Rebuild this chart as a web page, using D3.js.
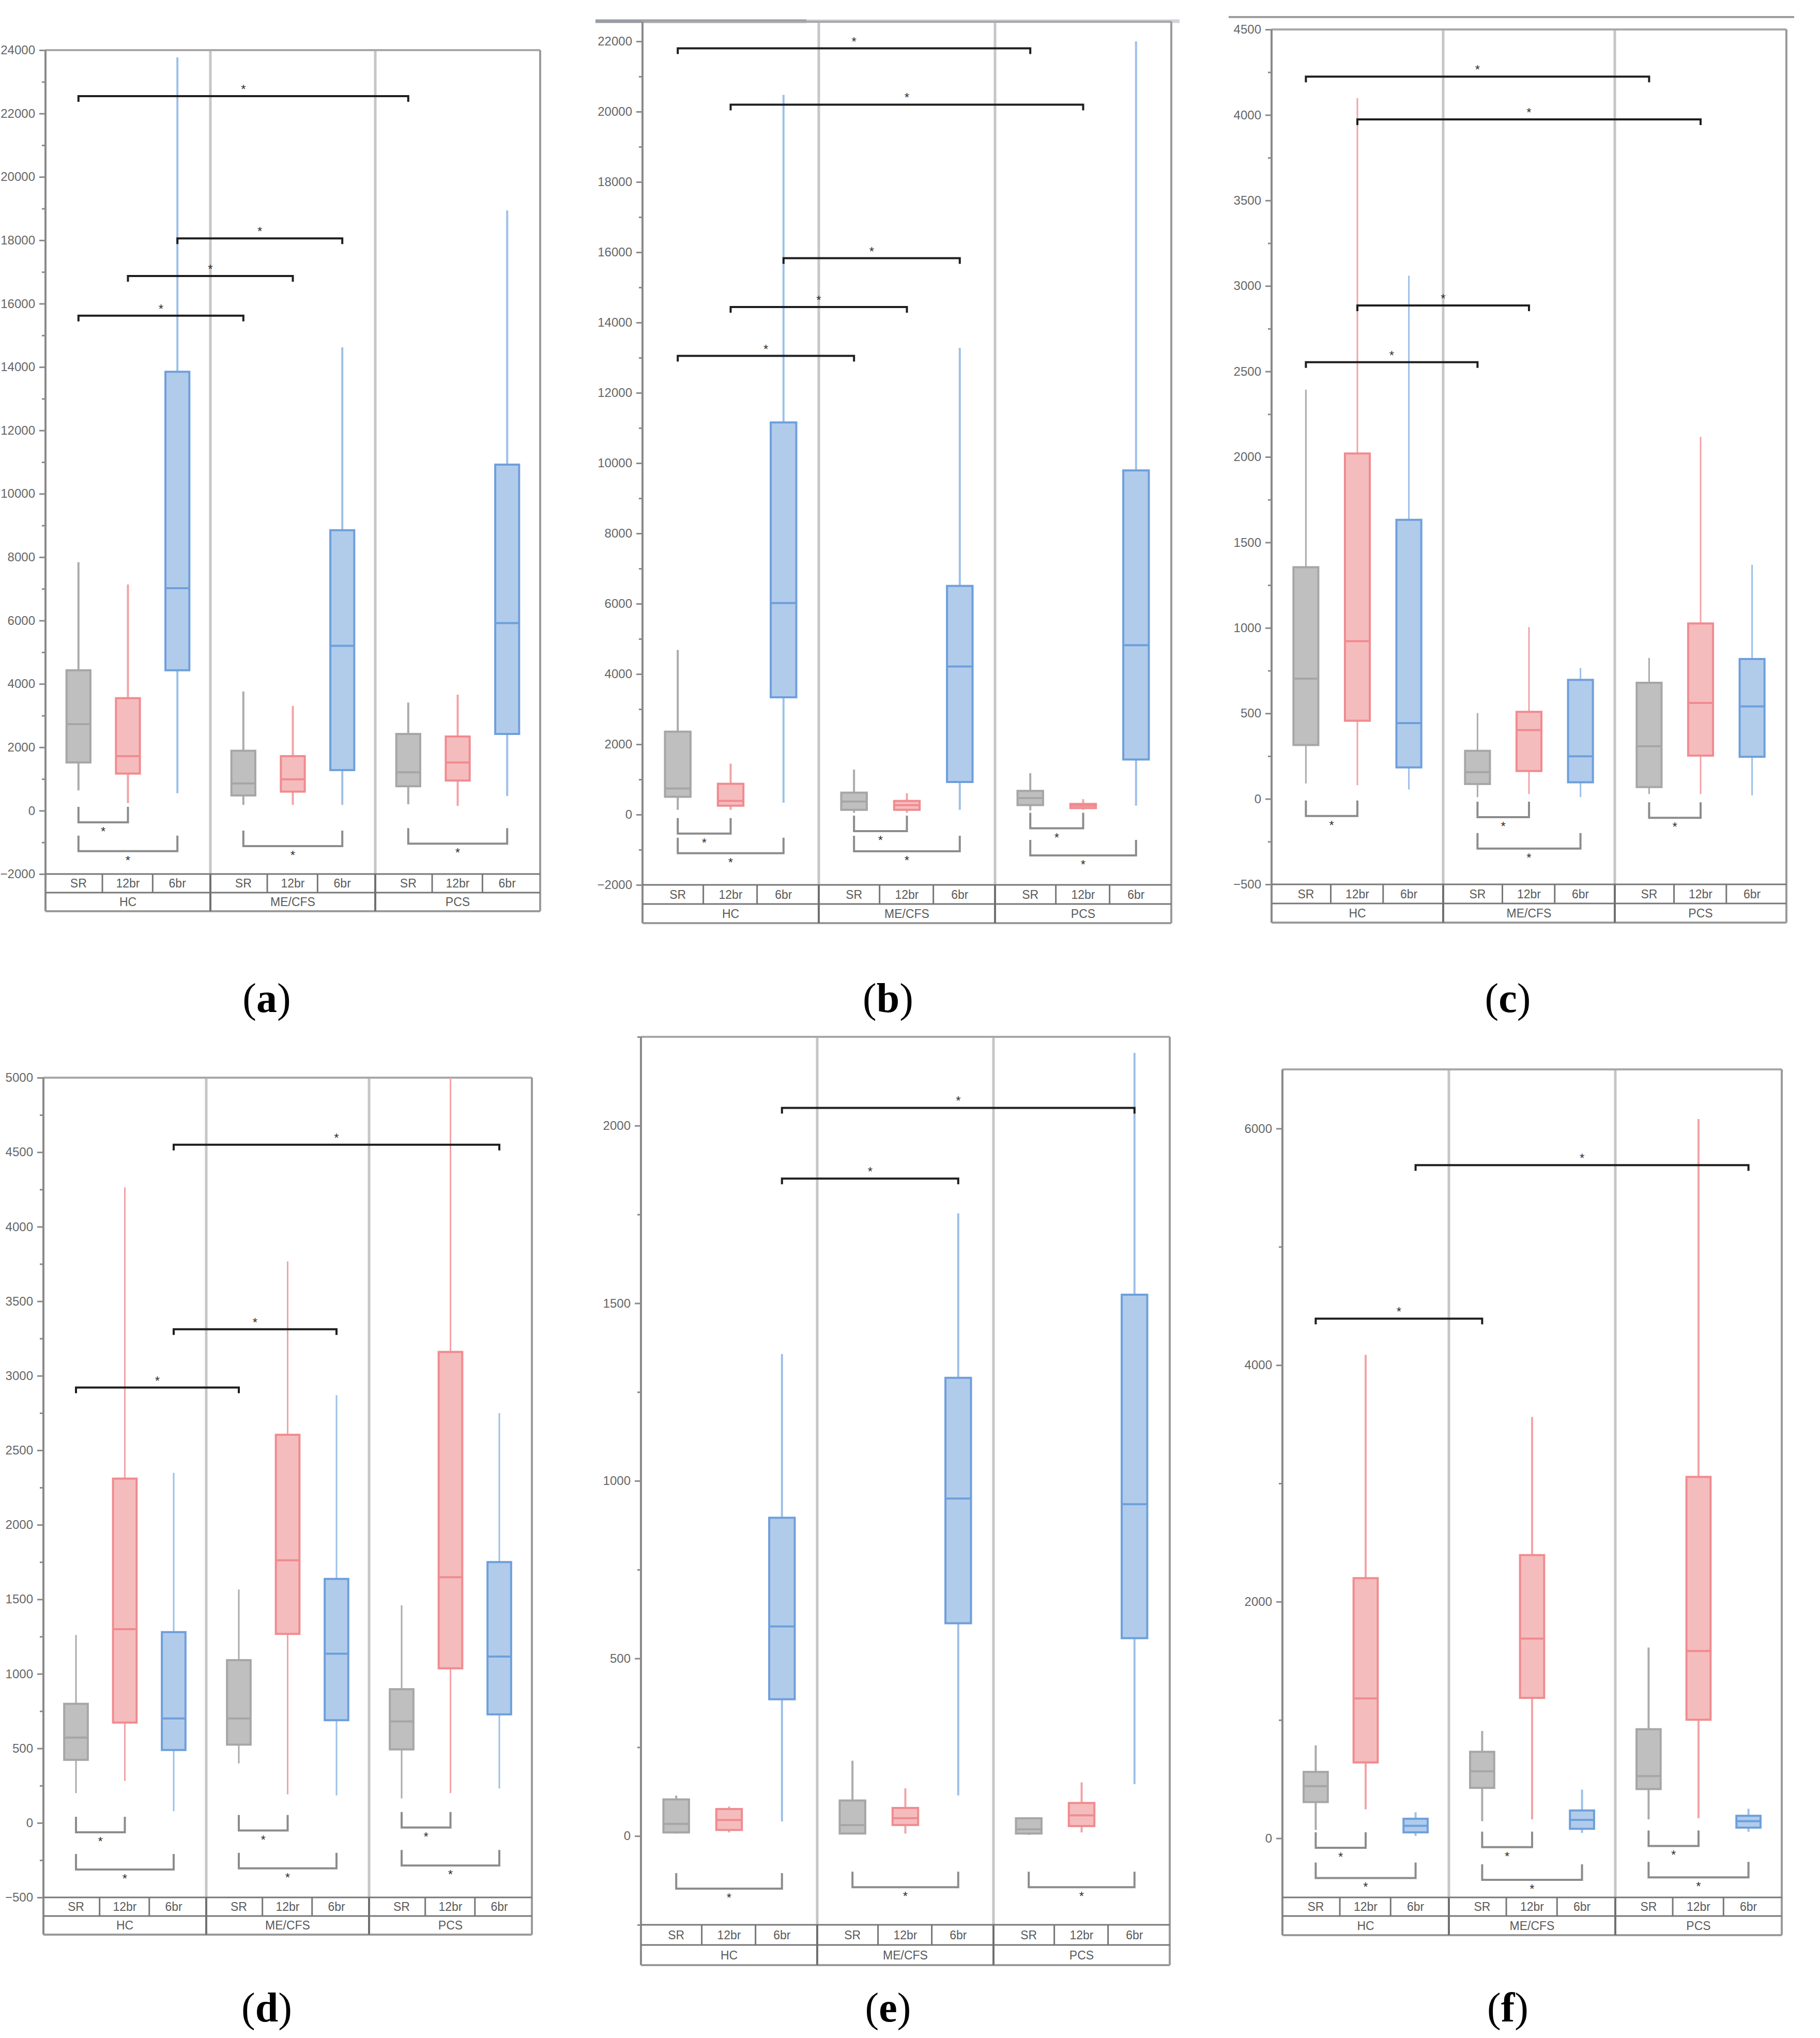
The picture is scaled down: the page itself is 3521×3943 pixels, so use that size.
<!DOCTYPE html>
<html>
<head>
<meta charset="utf-8">
<script src="https://cdn.jsdelivr.net/npm/d3@7"></script>
<style>
  html, body { margin: 0; padding: 0; background: #ffffff; }
  svg { display: block; }
</style>
</head>
<body>
<script>
// ---------------- DATA ----------------
const groups = ["HC", "ME/CFS", "PCS"];
const conditions = ["SR", "12br", "6br"];
const panelLetters = ["a", "b", "c", "d", "e", "f"];

// five-number boxes [lowWhisker, q1, median, q3, highWhisker]
// order: HC SR, HC 12br, HC 6br, ME SR, ME 12br, ME 6br, PCS SR, PCS 12br, PCS 6br
const boxesA = [[640,1520,2730,4430,7840],[240,1170,1720,3550,7140],[550,4430,7020,13850,23770],
                [180,480,860,1890,3760],[180,600,990,1720,3300],[180,1280,5200,8850,14620],
                [200,770,1210,2420,3410],[150,950,1520,2340,3660],[460,2420,5920,10920,18940]];
const boxesB = [[135,506,742,2359,4685],[135,253,388,876,1449],[337,3337,6017,11157,20478],
                [50,135,371,624,1281],[50,135,270,388,607],[135,927,4213,6506,13281],
                [118,270,472,674,1180],[135,185,253,303,438],[253,1567,4820,9792,22000]];
const boxesC = [[90,315,703,1355,2394],[80,457,922,2020,4099],[55,184,443,1632,3060],
                [10,87,156,281,502],[28,163,402,509,1005],[10,97,249,696,766],
                [28,69,308,679,825],[28,253,561,1026,2117],[21,246,541,818,1369]];
const boxesD = [[200,423,572,799,1261],[282,673,1300,2310,4264],[78,489,701,1280,2349],
                [399,525,701,1092,1566],[192,1268,1762,2604,3767],[184,689,1135,1637,2870],
                [164,493,681,897,1460],[200,1037,1648,3160,5000],[231,728,1116,1750,2749]];
const boxesE = [[7,10,34,103,114],[10,17,45,76,83],[41,385,590,896,1357],
                [7,7,31,100,212],[7,31,50,79,134],[114,599,950,1290,1753],
                [3,7,19,50,52],[10,28,58,93,151],[146,557,934,1524,2205]];
const boxesF = [[70,306,441,561,786],[245,641,1182,2199,4087],[20,50,105,165,220],
                [145,426,566,731,907],[160,1187,1688,2394,3561],[45,80,155,235,411],
                [160,416,526,922,1613],[170,1002,1583,3055,6080],[55,90,145,190,250]];

// significance brackets above: [groupFrom, condFrom, groupTo, condTo, value]
const topBracketsA = [[0,0,2,0,22550],[0,2,1,2,18060],[0,1,1,1,16870],[0,0,1,0,15620]];
const topBracketsB = [[0,0,2,0,21800],[0,1,2,1,20200],[0,2,1,2,15830],[0,1,1,1,14440],[0,0,1,0,13050]];
const topBracketsC = [[0,0,2,0,4224],[0,1,2,1,3974],[0,1,1,1,2886],[0,0,1,0,2554]];
const topBracketsD = [[0,2,2,2,4550],[0,2,1,2,3312],[0,0,1,0,2921]];
const topBracketsE = [[0,2,2,2,2050],[0,2,1,2,1851]];
const topBracketsF = [[0,2,2,2,5691],[0,0,1,0,4393]];

// significance brackets below (within group): [group, condFrom, condTo, value]
const lowBracketsA = [[0,0,1,-370],[0,0,2,-1280],[1,0,2,-1120],[2,0,2,-1040]];
const lowBracketsB = [[0,0,1,-540],[0,0,2,-1100],[1,0,1,-470],[1,0,2,-1045],[2,0,1,-390],[2,0,2,-1160]];
const lowBracketsC = [[0,0,1,-100],[1,0,1,-107],[1,0,2,-291],[2,0,1,-111]];
const lowBracketsD = [[0,0,1,-63],[0,0,2,-313],[1,0,1,-51],[1,0,2,-305],[2,0,1,-31],[2,0,2,-286]];
const lowBracketsE = [[0,0,2,-148],[1,0,2,-144],[2,0,2,-144]];
const lowBracketsF = [[0,0,1,-80],[0,0,2,-336],[1,0,1,-75],[1,0,2,-351],[2,0,1,-65],[2,0,2,-331]];

// y domains and tick labels
const domainA = [-2000, 24000], ticksA = [-2000,0,2000,4000,6000,8000,10000,12000,14000,16000,18000,20000,22000,24000];
const domainB = [-2000, 22000], ticksB = [-2000,0,2000,4000,6000,8000,10000,12000,14000,16000,18000,20000,22000];
const domainC = [-500, 4500],   ticksC = [-500,0,500,1000,1500,2000,2500,3000,3500,4000,4500];
const domainD = [-500, 5000],   ticksD = [-500,0,500,1000,1500,2000,2500,3000,3500,4000,4500,5000];
const domainE = [-250, 2250],   ticksE = [0,500,1000,1500,2000];
const domainF = [-500, 6500],   ticksF = [0,2000,4000,6000];
const minorStepA = 1000, minorStepB = 1000, minorStepC = 250, minorStepD = 250, minorStepE = 250, minorStepF = 1000;

// ---------------- LAYOUT (pixels) ----------------
const W = 3521, H = 3943;
const panels = [
  { boxes: boxesA, top: topBracketsA, low: lowBracketsA, domain: domainA, ticks: ticksA, minor: minorStepA,
    left: 88, right: 1045, axisTop: 97, axisBottom: 1691, frameTop: 97, row1: 1727, row2: 1763, whiskerW: 4 },
  { boxes: boxesB, top: topBracketsB, low: lowBracketsB, domain: domainB, ticks: ticksB, minor: minorStepB,
    left: 1243, right: 2266, axisTop: 80, axisBottom: 1712, frameTop: 42, row1: 1749, row2: 1786, whiskerW: 4 },
  { boxes: boxesC, top: topBracketsC, low: lowBracketsC, domain: domainC, ticks: ticksC, minor: minorStepC,
    left: 2460, right: 3456, axisTop: 57, axisBottom: 1711, frameTop: 57, row1: 1748, row2: 1785, whiskerW: 3 },
  { boxes: boxesD, top: topBracketsD, low: lowBracketsD, domain: domainD, ticks: ticksD, minor: minorStepD,
    left: 84, right: 1029, axisTop: 2085, axisBottom: 3671, frameTop: 2085, row1: 3707, row2: 3743, whiskerW: 3 },
  { boxes: boxesE, top: topBracketsE, low: lowBracketsE, domain: domainE, ticks: ticksE, minor: minorStepE,
    left: 1240, right: 2263, axisTop: 2006, axisBottom: 3724, frameTop: 2006, row1: 3763, row2: 3802, whiskerW: 4 },
  { boxes: boxesF, top: topBracketsF, low: lowBracketsF, domain: domainF, ticks: ticksF, minor: minorStepF,
    left: 2481, right: 3447, axisTop: 2069, axisBottom: 3671, frameTop: 2069, row1: 3707, row2: 3744, whiskerW: 4 }
];
const letterPos = [[516,1958],[1718,1958],[2917,1958],[516,3911],[1718,3911],[2917,3911]];

const colors = {
  SR:   { fill: "#bfbfbf", stroke: "#a6a6a6", whisker: "#ababab" },
  "12br": { fill: "#f5bcbe", stroke: "#f08b8f", whisker: "#f3a3a6" },
  "6br":  { fill: "#b1cceb", stroke: "#6e9fdb", whisker: "#9dc0e8" }
};
const FONT = "'Liberation Sans', Arial, sans-serif";

const svg = d3.select("body").append("svg")
  .attr("width", W).attr("height", H).attr("viewBox", `0 0 ${W} ${H}`);
svg.append("rect").attr("width", W).attr("height", H).attr("fill", "#ffffff");

// page rule remnants above panels b and c
svg.append("line").attr("x1", 1152).attr("x2", 1560).attr("y1", 41).attr("y2", 41)
  .attr("stroke", "#9a9ca4").attr("stroke-width", 7);
svg.append("line").attr("x1", 1560).attr("x2", 2282).attr("y1", 41).attr("y2", 41)
  .attr("stroke", "#d2d2dc").attr("stroke-width", 7);
svg.append("line").attr("x1", 2377).attr("x2", 3471).attr("y1", 33).attr("y2", 33)
  .attr("stroke", "#9c9c9c").attr("stroke-width", 4);

panels.forEach((p, pi) => {
  const g = svg.append("g");
  const y = d3.scaleLinear().domain(p.domain).range([p.axisBottom, p.axisTop]);
  const xg = d3.scaleBand().domain(groups).range([p.left, p.right]).padding(0);
  const gw = xg.bandwidth();
  const xc = d3.scalePoint().domain(conditions).range([-0.3 * gw, 0.3 * gw]);
  const cx = (gi, ci) => xg(groups[gi]) + gw / 2 + xc(conditions[ci]);
  const bw = 0.145 * gw;

  // group dividers inside plot
  groups.slice(1).forEach(gr => {
    g.append("line").attr("x1", xg(gr)).attr("x2", xg(gr))
      .attr("y1", p.frameTop).attr("y2", p.axisBottom)
      .attr("stroke", "#c6c6c6").attr("stroke-width", 5);
  });

  // frame top & right
  g.append("line").attr("x1", p.left).attr("x2", p.right).attr("y1", p.frameTop).attr("y2", p.frameTop)
    .attr("stroke", "#a8a8a8").attr("stroke-width", 4);
  g.append("line").attr("x1", p.right).attr("x2", p.right).attr("y1", p.frameTop).attr("y2", p.row2)
    .attr("stroke", "#9a9a9a").attr("stroke-width", 4);

  // minor ticks
  const minorVals = d3.range(Math.ceil(p.domain[0] / p.minor) * p.minor, p.domain[1] + 1, p.minor)
    .filter(v => p.ticks.indexOf(v) < 0);
  const minorAxis = d3.axisLeft(y).tickValues(minorVals).tickSize(7).tickFormat("");
  const gm = g.append("g").attr("transform", `translate(${p.left},0)`).call(minorAxis);
  gm.select(".domain").remove();
  gm.selectAll(".tick line").attr("stroke", "#8a8a8a").attr("stroke-width", 3);

  // major ticks + labels
  const axis = d3.axisLeft(y).tickValues(p.ticks).tickSize(12).tickPadding(8).tickFormat(d3.format("d"));
  const ga = g.append("g").attr("transform", `translate(${p.left},0)`).call(axis);
  ga.select(".domain").remove();
  ga.selectAll(".tick line").attr("stroke", "#8a8a8a").attr("stroke-width", 3);
  ga.selectAll(".tick text").attr("font-family", FONT).attr("font-size", 24).attr("fill", "#666666");

  // left axis line
  g.append("line").attr("x1", p.left).attr("x2", p.left).attr("y1", p.frameTop).attr("y2", p.row2)
    .attr("stroke", "#8a8a8a").attr("stroke-width", 4);

  // category table rows
  [p.axisBottom, p.row1].forEach(yy => {
    g.append("line").attr("x1", p.left).attr("x2", p.right).attr("y1", yy).attr("y2", yy)
      .attr("stroke", "#777777").attr("stroke-width", 3);
  });
  g.append("line").attr("x1", p.left).attr("x2", p.right).attr("y1", p.row2).attr("y2", p.row2)
    .attr("stroke", "#9a9a9a").attr("stroke-width", 4);
  groups.slice(1).forEach(gr => {
    g.append("line").attr("x1", xg(gr)).attr("x2", xg(gr)).attr("y1", p.axisBottom).attr("y2", p.row2)
      .attr("stroke", "#707070").attr("stroke-width", 4);
  });
  groups.forEach((gr, gi) => {
    [0.345, 0.65].forEach(f => {
      const xx = xg(gr) + f * gw;
      g.append("line").attr("x1", xx).attr("x2", xx).attr("y1", p.axisBottom).attr("y2", p.row1)
        .attr("stroke", "#777777").attr("stroke-width", 3);
    });
    conditions.forEach((c, ci) => {
      g.append("text").attr("x", cx(gi, ci)).attr("y", (p.axisBottom + p.row1) / 2 + 8)
        .attr("text-anchor", "middle").attr("font-family", FONT).attr("font-size", 23)
        .attr("fill", "#5a5a5a").text(c);
    });
    g.append("text").attr("x", xg(gr) + gw / 2).attr("y", (p.row1 + p.row2) / 2 + 8)
      .attr("text-anchor", "middle").attr("font-family", FONT).attr("font-size", 23)
      .attr("fill", "#5a5a5a").text(gr);
  });

  // boxes
  p.boxes.forEach((b, i) => {
    const gi = Math.floor(i / 3), ci = i % 3;
    const col = colors[conditions[ci]];
    const x = cx(gi, ci);
    g.append("line").attr("x1", x).attr("x2", x).attr("y1", y(b[0])).attr("y2", y(b[4]))
      .attr("stroke", col.whisker).attr("stroke-width", p.whiskerW);
    g.append("rect").attr("x", x - bw / 2).attr("width", bw)
      .attr("y", y(b[3])).attr("height", Math.max(1, y(b[1]) - y(b[3])))
      .attr("fill", col.fill).attr("stroke", col.stroke).attr("stroke-width", 4);
    g.append("line").attr("x1", x - bw / 2).attr("x2", x + bw / 2).attr("y1", y(b[2])).attr("y2", y(b[2]))
      .attr("stroke", col.stroke).attr("stroke-width", 4);
  });

  // top brackets
  p.top.forEach(br => {
    const x1 = cx(br[0], br[1]), x2 = cx(br[2], br[3]), yy = y(br[4]);
    g.append("path").attr("d", `M${x1},${yy + 11}V${yy}H${x2}V${yy + 11}`)
      .attr("fill", "none").attr("stroke", "#1e1e1e").attr("stroke-width", 4);
    g.append("text").attr("x", (x1 + x2) / 2).attr("y", yy - 5).attr("text-anchor", "middle")
      .attr("font-family", FONT).attr("font-size", 24).attr("fill", "#333").text("*");
  });

  // bottom brackets
  p.low.forEach(br => {
    const x1 = cx(br[0], br[1]), x2 = cx(br[0], br[2]), yy = y(br[3]);
    g.append("path").attr("d", `M${x1},${yy - 30}V${yy}H${x2}V${yy - 30}`)
      .attr("fill", "none").attr("stroke", "#8c8c8c").attr("stroke-width", 4);
    g.append("text").attr("x", (x1 + x2) / 2).attr("y", yy + 26).attr("text-anchor", "middle")
      .attr("font-family", FONT).attr("font-size", 24).attr("fill", "#333").text("*");
  });

  // panel letter
  const t = svg.append("text").attr("x", letterPos[pi][0]).attr("y", letterPos[pi][1])
    .attr("text-anchor", "middle").attr("font-family", "'Liberation Serif', 'Times New Roman', serif")
    .attr("font-size", 80).attr("fill", "#000");
  t.append("tspan").text("(");
  t.append("tspan").attr("font-weight", "bold").text(panelLetters[pi]);
  t.append("tspan").text(")");
});
</script>
</body>
</html>
